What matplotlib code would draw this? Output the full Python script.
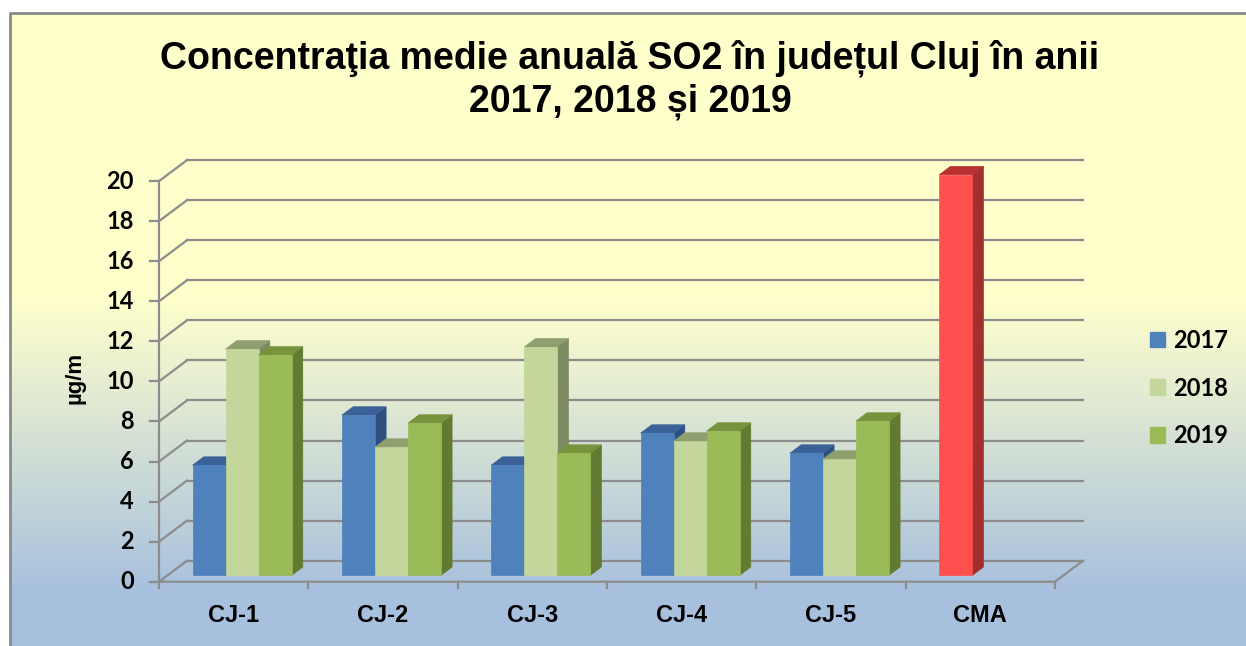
import numpy as np
import matplotlib.pyplot as plt
from matplotlib.patches import Polygon, Patch

# data
categories = ["CJ-1", "CJ-2", "CJ-3", "CJ-4", "CJ-5", "CMA"]
years = ["2017", "2018", "2019"]
v2017 = [5.5, 8.0, 5.5, 7.1, 6.1, 20.0]
v2018 = [11.3, 6.4, 11.4, 6.7, 5.8, None]
v2019 = [11.0, 7.6, 6.1, 7.2, 7.7, None]
yticks = list(range(0, 21, 2))

# face colours: front, top, side
colors = {
    "2017": ("#4F81BD", "#3A6298", "#2E5080"),
    "2018": ("#C3D69B", "#8FA06E", "#7D8B62"),
    "2019": ("#9BBB59", "#77933C", "#637A33"),
    "CMA": ("#FF5050", "#B83232", "#A32E2E"),
}
grid_col = "#8C8C8C"

W, H = 1246, 646
fig = plt.figure(figsize=(W / 100, H / 100), dpi=100)
ax = fig.add_axes([0, 0, 1, 1])
ax.axis("off")

# pixel layout of the front plane
px_x0, px_cat = 159, 149.33
px_y0, px_val = 581.7, 20.03
DX = 28 / px_cat
DY = 21 / px_val

def X(px):
    return (px - px_x0) / px_cat

def Y(py):
    return (px_y0 - py) / px_val

# background gradient panel
rows = np.arange(13, H)
t = np.clip((rows - 300) / (592 - 300), 0, 1)[:, None]
top_c = np.array([255, 255, 204]) / 255
bot_c = np.array([167, 192, 222]) / 255
grad = (top_c * (1 - t) + bot_c * t)[:, None, :]
ax.imshow(grad, extent=(X(10), X(W), Y(H), Y(13)), aspect="auto", zorder=0)
ax.plot([X(10), X(10), X(W)], [Y(H), Y(13), Y(13)], color="#8A8A8A", lw=2, zorder=1,
        solid_capstyle="butt")

ncat = len(categories)
# back wall gridlines and side wall obliques
for v in yticks:
    ax.plot([DX, ncat + DX], [v + DY, v + DY], color=grid_col, lw=1.6, zorder=2)
    ax.plot([0, DX], [v, v + DY], color=grid_col, lw=1.6, zorder=2)
    ax.plot([X(150), 0], [v, v], color=grid_col, lw=1.6, zorder=2)
    ax.text(X(134), v, str(v), ha="right", va="center", fontsize=17,
            fontweight="bold", family=["Lato", "DejaVu Sans"], zorder=5)
ax.plot([0, 0], [0, yticks[-1]], color=grid_col, lw=1.6, zorder=2)
ax.plot([0, ncat, ncat + DX], [0, 0, DY], color=grid_col, lw=1.6, zorder=2)
for k in range(ncat + 1):
    ax.plot([k, k], [0, -6 / px_val], color=grid_col, lw=1.6, zorder=2)
for k, c in enumerate(categories):
    ax.text(k + 0.5, Y(616), c, ha="center", va="center", fontsize=17,
            fontweight="bold", family=["Liberation Sans Narrow", "Liberation Sans"], zorder=5)

# 3D-looking bars
w = 33 / px_cat
f_front, depth = 0.3, 0.4
ox, oy = f_front * DX, f_front * DY
sx, sy = depth * DX, depth * DY
series = [v2017, v2018, v2019]
z = 10
for k in range(ncat):
    for i, vals in enumerate(series):
        v = vals[k]
        if v is None:
            continue
        key = "CMA" if categories[k] == "CMA" else years[i]
        fc, tc, sc = colors[key]
        xc = k + 0.5 + ox + (i - 1) * w
        x0, x1 = xc - w / 2, xc + w / 2
        b, tp = oy, oy + v
        ax.add_patch(Polygon([(x1, b), (x1, tp), (x1 + sx, tp + sy), (x1 + sx, b + sy)],
                             closed=True, facecolor=sc, edgecolor=sc, lw=0.5, zorder=z))
        ax.add_patch(Polygon([(x0, tp), (x0 + sx, tp + sy), (x1 + sx, tp + sy), (x1, tp)],
                             closed=True, facecolor=tc, edgecolor=tc, lw=0.5, zorder=z + 1))
        ax.bar(xc, v, width=w, bottom=b, color=fc, edgecolor=fc, lw=0.5, zorder=z + 2)
        z += 3

ax.set_xlim(X(0), X(W))
ax.set_ylim(Y(H), Y(0))

ax.text(X(75), Y(378), "µg/m", rotation=90, ha="center", va="center", fontsize=16,
        fontweight="bold", family=["Liberation Sans", "DejaVu Sans"], zorder=5)

fig.text(630 / W, 1 - 80 / H,
         "Concentraţia medie anuală SO2 în județul Cluj în anii\n2017, 2018 și 2019",
         ha="center", va="center", fontsize=27, fontweight="bold", linespacing=1.24,
         family=["Liberation Sans", "DejaVu Sans"])

handles = [Patch(facecolor=colors[y][0], edgecolor=colors[y][0]) for y in years]
leg = fig.legend(handles, years, loc="center left", bbox_to_anchor=(1138 / W, 1 - 388 / H),
                 frameon=False, borderpad=0, handlelength=0.65, handleheight=0.65,
                 handletextpad=0.35, labelspacing=1.05,
                 prop={"family": ["Lato", "DejaVu Sans"], "weight": "bold", "size": 17})

fig.savefig("out.png", dpi=100)
